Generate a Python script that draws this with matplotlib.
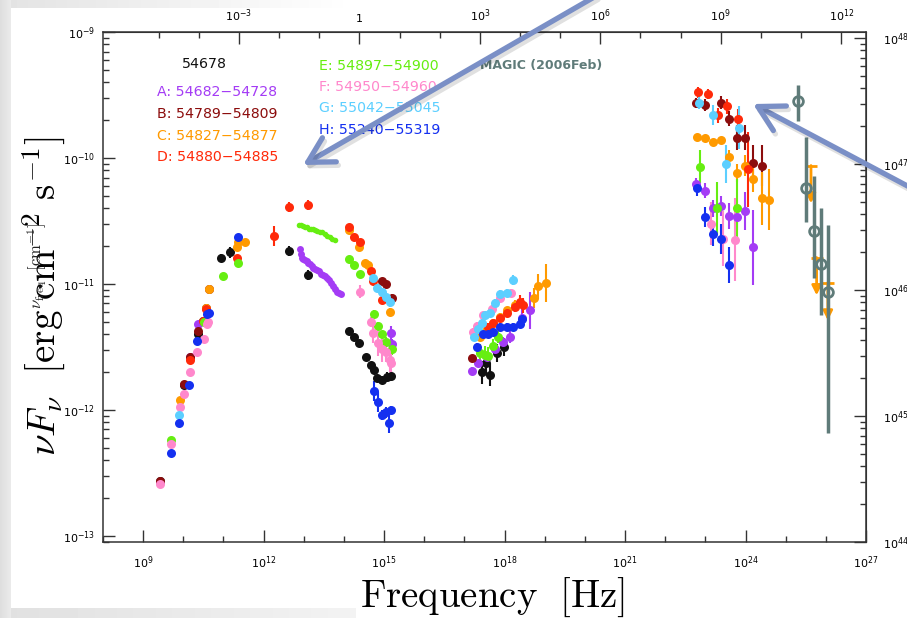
import numpy as np
import matplotlib
matplotlib.use('Agg')
import matplotlib.pyplot as plt
from matplotlib import ticker, patheffects

# SED points: log10(nu / Hz), log10(nuFnu / erg cm^-2 s^-1), 1-sigma error (dex)

# 54678
nu_0 = [9.42, 10.02, 10.36, 10.49, 10.94, 11.16, 12.63, 13.10,
        14.12, 14.25, 14.37, 14.55, 14.67, 14.75, 14.82, 14.95, 15.07, 15.17,
        17.43, 17.53, 17.63, 17.81, 17.98]
nf_0 = [-12.56, -11.80, -11.40, -11.29, -10.79, -10.75, -10.74, -10.93,
        -11.37, -11.42, -11.47, -11.58, -11.64, -11.68, -11.75, -11.76, -11.74, -11.73,
        -11.70, -11.63, -11.72, -11.55, -11.50]
er_0 = [0.02, 0.02, 0.02, 0.02, 0.03, 0.04, 0.04, 0.04,
        0.02, 0.02, 0.02, 0.02, 0.02, 0.02, 0.03, 0.03, 0.04, 0.04,
        0.09, 0.09, 0.09, 0.07, 0.07]

# A: 54682-54728
nu_A = [9.42, 10.17, 10.36, 15.17, 15.19,
        17.19, 17.34, 17.56, 17.76, 17.96, 18.13, 18.43, 18.63,
        22.76, 22.99, 23.19, 23.38, 23.58, 23.78, 23.98, 24.18]
nf_A = [-12.57, -11.58, -11.32, -11.39, -11.48,
        -11.69, -11.63, -11.58, -11.52, -11.46, -11.42, -11.27, -11.21,
        -10.21, -10.26, -10.40, -10.38, -10.46, -10.47, -10.42, -10.71]
er_A = [0.02, 0.02, 0.02, 0.06, 0.04,
        0.03, 0.03, 0.03, 0.03, 0.04, 0.05, 0.08, 0.15,
        0.05, 0.06, 0.07, 0.08, 0.10, 0.10, 0.15, 0.30]
nu_A_ir = [12.90, 12.93, 12.95, 12.99, 13.03, 13.07, 13.10, 13.15, 13.20, 13.23, 13.28, 13.33,
           13.38, 13.43, 13.48, 13.53, 13.58, 13.63, 13.68, 13.73, 13.78, 13.83, 13.88, 13.92]
nf_A_ir = [-10.72, -10.76, -10.79, -10.80, -10.81, -10.82, -10.83, -10.84, -10.86, -10.87, -10.88, -10.89,
           -10.90, -10.92, -10.93, -10.94, -10.95, -10.97, -10.99, -11.02, -11.04, -11.06, -11.07, -11.08]

# B: 54789-54809
nu_B = [9.42, 10.02, 10.17, 10.36, 10.56, 10.64,
        14.95, 15.05, 15.19,
        17.19,
        22.76, 22.99, 23.38, 23.58, 23.78, 23.98, 24.18, 24.41]
nf_B = [-12.56, -11.79, -11.58, -11.37, -11.19, -11.04,
        -10.98, -11.00, -11.11,
        -11.59,
        -9.56, -9.58, -9.56, -9.69, -9.84, -9.84, -10.04, -10.06]
er_B = [0.02, 0.02, 0.02, 0.02, 0.02, 0.02,
        0.03, 0.03, 0.03,
        0.03,
        0.04, 0.05, 0.05, 0.06, 0.10, 0.10, 0.14, 0.16]

# C: 54827-54877
nu_C = [9.92, 10.56, 10.64, 11.34, 11.36, 11.53,
        14.12, 14.37, 14.52, 14.60, 15.14,
        17.39, 17.56, 17.71, 17.88, 18.06, 18.26, 18.73, 18.83, 19.03,
        22.79, 22.99, 23.19, 23.38, 23.58, 23.78, 23.98, 24.18, 24.41, 24.58]
nf_C = [-11.92, -11.19, -11.04, -10.71, -10.67, -10.67,
        -10.57, -10.71, -10.83, -10.85, -11.22,
        -11.42, -11.36, -11.31, -11.26, -11.21, -11.17, -11.11, -11.02, -10.99,
        -9.83, -9.84, -9.87, -9.86, -9.99, -10.12, -10.06, -10.17, -10.32, -10.33]
er_C = [0.02, 0.02, 0.02, 0.02, 0.02, 0.02,
        0.02, 0.02, 0.02, 0.02, 0.03,
        0.03, 0.03, 0.03, 0.03, 0.03, 0.04, 0.08, 0.10, 0.15,
        0.02, 0.02, 0.02, 0.02, 0.05, 0.07, 0.08, 0.10, 0.21, 0.24]

# D: 54880-54885
nu_D = [10.17, 10.49, 10.56, 11.34, 12.26, 12.63, 13.10,
        14.12, 14.25, 14.40, 14.67, 14.72, 14.95,
        17.58, 17.71, 17.88, 18.06, 18.26, 18.38, 18.46,
        22.81, 23.06, 23.31, 23.53, 23.81, 24.06]
nf_D = [-11.60, -11.29, -11.20, -10.79, -10.62, -10.39, -10.37,
        -10.55, -10.63, -10.67, -10.90, -10.98, -11.13,
        -11.34, -11.31, -11.27, -11.23, -11.18, -11.14, -11.17,
        -9.48, -9.49, -9.66, -9.59, -9.69, -10.09]
er_D = [0.02, 0.02, 0.02, 0.02, 0.08, 0.04, 0.04,
        0.02, 0.02, 0.02, 0.03, 0.03, 0.03,
        0.03, 0.03, 0.03, 0.03, 0.04, 0.05, 0.06,
        0.04, 0.04, 0.06, 0.06, 0.08, 0.30]

# E: 54897-54900
nu_E = [9.69, 10.51, 10.99, 11.36,
        14.12, 14.25, 14.40, 14.75, 14.85, 14.95, 15.05, 15.19,
        17.39, 17.51, 17.58, 17.71, 17.83,
        22.86, 23.28, 23.78]
nf_E = [-12.24, -11.30, -10.94, -10.83,
        -10.80, -10.85, -10.92, -11.24, -11.33, -11.40, -11.46, -11.52,
        -11.55, -11.56, -11.57, -11.49, -11.42,
        -10.07, -10.40, -10.40]
er_E = [0.02, 0.02, 0.02, 0.02,
        0.02, 0.02, 0.02, 0.03, 0.03, 0.03, 0.04, 0.04,
        0.07, 0.07, 0.07, 0.05, 0.05,
        0.13, 0.21, 0.23]
nu_E_ir = [12.88, 12.93, 12.98, 13.03, 13.08, 13.13, 13.18, 13.23, 13.28,
           13.34, 13.40, 13.46, 13.53, 13.59, 13.65, 13.71, 13.78]
nf_E_ir = [-10.53, -10.53, -10.54, -10.55, -10.55, -10.56, -10.56, -10.56, -10.57,
           -10.58, -10.59, -10.59, -10.60, -10.62, -10.63, -10.64, -10.65]

# F: 54950-54960
nu_F = [9.42, 9.69, 9.92, 10.02, 10.17, 10.34, 10.51, 10.59, 10.61,
        14.40, 14.67, 14.72, 14.85, 14.95, 15.05, 15.14, 15.17,
        17.21, 17.31, 17.46, 17.68, 17.88, 18.16,
        23.14, 23.43, 23.73]
nf_F = [-12.59, -12.27, -11.98, -11.87, -11.70, -11.54, -11.44, -11.32, -11.30,
        -11.06, -11.30, -11.39, -11.47, -11.52, -11.54, -11.60, -11.63,
        -11.38, -11.33, -11.25, -11.20, -11.11, -11.07,
        -10.52, -10.64, -10.65]
er_F = [0.02, 0.02, 0.02, 0.02, 0.02, 0.02, 0.02, 0.02, 0.02,
        0.05, 0.04, 0.08, 0.10, 0.10, 0.08, 0.10, 0.12,
        0.03, 0.03, 0.03, 0.03, 0.03, 0.03,
        0.17, 0.22, 0.33]

# G: 55042-55045
nu_G = [9.89,
        14.72, 14.82, 14.95, 15.05, 15.14,
        17.24, 17.34, 17.43, 17.51, 17.63, 17.76, 17.88, 18.06, 18.21,
        22.84, 23.19, 23.51, 23.83]
nf_G = [-12.04,
        -10.95, -11.03, -11.06, -11.10, -11.14,
        -11.42, -11.36, -11.31, -11.25, -11.23, -11.15, -11.08, -11.07, -10.97,
        -9.56, -9.66, -10.05, -9.76]
er_G = [0.02,
        0.03, 0.03, 0.03, 0.03, 0.04,
        0.03, 0.03, 0.03, 0.03, 0.03, 0.03, 0.03, 0.03, 0.04,
        0.05, 0.08, 0.15, 0.17]

# H: 55240-55319
nu_H = [9.69, 9.89, 10.14, 10.34, 10.59, 10.64, 11.36,
        14.75, 14.85, 14.95, 15.05, 15.12, 15.17,
        17.31, 17.46, 17.58, 17.71, 17.88, 18.06, 18.21, 18.38, 18.43,
        22.79, 22.99, 23.19, 23.38, 23.58]
nf_H = [-12.34, -12.10, -11.80, -11.45, -11.24, -11.23, -10.63,
        -11.85, -11.94, -12.04, -12.02, -12.10, -12.00,
        -11.50, -11.40, -11.40, -11.38, -11.34, -11.34, -11.34, -11.32, -11.28,
        -10.24, -10.47, -10.60, -10.64, -10.85]
er_H = [0.02, 0.02, 0.02, 0.02, 0.02, 0.02, 0.02,
        0.08, 0.08, 0.04, 0.04, 0.08, 0.03,
        0.03, 0.03, 0.03, 0.03, 0.03, 0.03, 0.03, 0.03, 0.04,
        0.06, 0.08, 0.10, 0.12, 0.14]

# MAGIC (2006 Feb), asymmetric errors in dex
nu_magic = [25.30, 25.50, 25.70, 25.87, 26.05]
nf_magic = [-9.55, -10.24, -10.58, -10.84, -11.06]
up_magic = [0.13, 0.41, 0.44, 0.44, 0.53]
lo_magic = [0.16, 0.27, 0.37, 0.41, 1.12]

# VHE upper limits (period C)
nu_ul = [25.63, 25.77, 26.05]
nf_ul = [-10.06, -10.79, -10.99]

period_labels = ['54678', 'A: 54682\u221254728', 'B: 54789\u221254809', 'C: 54827\u221254877',
                 'D: 54880\u221254885', 'E: 54897\u221254900', 'F: 54950\u221254960',
                 'G: 55042\u221255045', 'H: 55240\u221255319']
period_colors = ['#111111', '#a43cf5', '#8c0d0d', '#ff9a00', '#ff2a0a',
                 '#66ee11', '#ff88cc', '#5ccfff', '#1430f0']
magic_color = '#5f7b79'

nu_to_ev = 2.418e14          # Hz per eV
flux_to_lum = 10 ** 57.048   # nuFnu -> nuLnu


def sed(ax, lognu, lognf, err, color, ms=6.5, z=3):
    lognf = np.asarray(lognf)
    err = np.asarray(err)
    y = 10 ** lognf
    yerr = [y - 10 ** (lognf - err), 10 ** (lognf + err) - y]
    ax.errorbar(10 ** np.asarray(lognu), y, yerr=yerr, fmt='o', color=color,
                ms=ms, mew=0, elinewidth=1.5, capsize=0, zorder=z)


fig = plt.figure(figsize=(9.07, 6.18), dpi=100)
fig.patch.set_facecolor('white')

# slide background strips
bg = fig.add_axes([0, 0, 1, 1], zorder=-10)
bg.set_xlim(0, 907)
bg.set_ylim(618, 0)
bg.axis('off')
bg.imshow(np.linspace(0.88, 0.95, 64)[None, :], extent=(0, 356, 618, 608), cmap='gray',
          vmin=0, vmax=1, aspect='auto')
bg.imshow(np.linspace(0.89, 1.0, 64)[None, :], extent=(0, 360, 8, 0), cmap='gray',
          vmin=0, vmax=1, aspect='auto')
bg.imshow(np.linspace(0.87, 0.92, 16)[None, :], extent=(0, 11, 618, 0), cmap='gray',
          vmin=0, vmax=1, aspect='auto')

ax = fig.add_axes([103 / 907, 76 / 618, 763 / 907, 510 / 618])
ax.set_xscale('log')
ax.set_yscale('log')
ax.set_xlim(1e8, 1e27)
ax.set_ylim(10 ** -13.048, 1e-9)

series = [(nu_0, nf_0, er_0), (nu_A, nf_A, er_A), (nu_B, nf_B, er_B), (nu_C, nf_C, er_C),
          (nu_D, nf_D, er_D), (nu_E, nf_E, er_E), (nu_F, nf_F, er_F), (nu_G, nf_G, er_G),
          (nu_H, nf_H, er_H)]
for (lx, ly, le), col in zip(series, period_colors):
    sed(ax, lx, ly, le, col)

# IR spectra
ax.plot(10 ** np.asarray(nu_A_ir), 10 ** np.asarray(nf_A_ir), 'o', color=period_colors[1],
        ms=5, mew=0, zorder=3)
ax.plot(10 ** np.asarray(nu_E_ir), 10 ** np.asarray(nf_E_ir), 'o', color=period_colors[5],
        ms=4, mew=0, zorder=3)

# VHE upper limits
ul_drop = 0.3
for lx, ly in zip(nu_ul, nf_ul):
    ax.annotate('', xy=(10 ** lx, 10 ** (ly - ul_drop)), xytext=(10 ** lx, 10 ** ly),
                arrowprops=dict(arrowstyle='-|>', color=period_colors[3], lw=2,
                                mutation_scale=14, shrinkA=0, shrinkB=0), zorder=4)
    ax.plot(10 ** lx, 10 ** ly, marker='_', ms=9, mew=2, color=period_colors[3], zorder=4)

# MAGIC
mlog = np.asarray(nf_magic)
my = 10 ** mlog
ax.errorbar(10 ** np.asarray(nu_magic), my,
            yerr=[my - 10 ** (mlog - np.asarray(lo_magic)), 10 ** (mlog + np.asarray(up_magic)) - my],
            fmt='o', mfc='none', mec=magic_color, color=magic_color, ms=7, mew=2,
            elinewidth=2.5, capsize=0, zorder=5)

# period labels
for i, (txt, col) in enumerate(zip(period_labels, period_colors)):
    if i == 0:
        x, y = 0.1035, 0.937
    elif i <= 4:
        x, y = 0.0708, 0.882 - (i - 1) * 0.0425
    else:
        x, y = 0.283, 0.933 - (i - 5) * 0.0415
    ax.text(x, y, txt, color=col, fontsize=10.2, transform=ax.transAxes, ha='left', va='center')
ax.text(0.494, 0.935, 'MAGIC (2006Feb)', color=magic_color, fontsize=9, fontweight='bold',
        transform=ax.transAxes, ha='left', va='center')

# axes styling
for sp in ax.spines.values():
    sp.set_color('#333333')
    sp.set_linewidth(1.1)

ax.xaxis.set_major_locator(ticker.FixedLocator([10.0 ** k for k in range(9, 28, 3)]))
ax.xaxis.set_minor_locator(ticker.FixedLocator([10.0 ** k for k in range(8, 28)]))
ax.xaxis.set_major_formatter(ticker.LogFormatterMathtext())
ax.xaxis.set_minor_formatter(ticker.NullFormatter())
ax.yaxis.set_major_locator(ticker.LogLocator(base=10, numticks=20))
ax.yaxis.set_minor_locator(ticker.LogLocator(base=10, subs=np.arange(2, 10), numticks=20))
ax.yaxis.set_minor_formatter(ticker.NullFormatter())
ax.tick_params(which='both', direction='in', color='#333333', width=1.0, labelsize=8)
ax.tick_params(which='major', length=8.5)
ax.tick_params(which='minor', length=4.5)
ax.tick_params(axis='x', pad=9)
ax.tick_params(axis='y', pad=6)

top = ax.secondary_xaxis('top', functions=(lambda f: f / nu_to_ev, lambda e: e * nu_to_ev))
top.xaxis.set_major_locator(ticker.FixedLocator([1e-3, 1.0, 1e3, 1e6, 1e9, 1e12]))
top.xaxis.set_minor_locator(ticker.FixedLocator([10.0 ** k for k in range(-5, 13)]))
top.xaxis.set_major_formatter(ticker.FuncFormatter(
    lambda v, p: '1' if abs(np.log10(v)) < 1e-6 else r'$10^{%d}$' % round(np.log10(v))))
top.xaxis.set_minor_formatter(ticker.NullFormatter())
top.tick_params(which='both', direction='in', color='#333333', width=1.0, labelsize=8, pad=6)
top.tick_params(which='major', length=8.5)
top.tick_params(which='minor', length=4.5)
top.spines['top'].set_color('#333333')

right = ax.secondary_yaxis('right', functions=(lambda f: f * flux_to_lum, lambda L: L / flux_to_lum))
right.yaxis.set_major_locator(ticker.FixedLocator([1e44, 1e45, 1e46, 1e47, 1e48]))
right.yaxis.set_minor_locator(ticker.LogLocator(base=10, subs=np.arange(2, 10), numticks=20))
right.yaxis.set_major_formatter(ticker.LogFormatterMathtext())
right.yaxis.set_minor_formatter(ticker.NullFormatter())
right.tick_params(which='both', direction='in', color='#333333', width=1.0, labelsize=8, pad=12)
right.tick_params(which='major', length=8.5)
right.tick_params(which='minor', length=4.5)
right.spines['right'].set_color('#333333')

# axis titles
fig.text(492 / 907, 11 / 618, r'$\mathrm{Frequency\ \ [Hz]}$', ha='center', va='baseline',
         fontsize=28, math_fontfamily='cm')
fig.text(44 / 907, 0.521, r'$\nu F_\nu\ \ [\mathrm{erg\ cm}^{-2}\ \mathrm{s}^{-1}]$',
         rotation=90, ha='center', va='center', fontsize=28, math_fontfamily='cm')
fig.text(37 / 907, 0.57, r'$\nu_{\rm freq}\ \ [\mathrm{cm}^{-1}]$', rotation=90,
         ha='center', va='center', fontsize=12, math_fontfamily='cm', color='#222222')

# pointer arrows
ov = fig.add_axes([0, 0, 1, 1], zorder=20)
ov.set_xlim(0, 907)
ov.set_ylim(618, 0)
ov.axis('off')
shadow = [patheffects.SimpleLineShadow(offset=(1.5, -2.5), shadow_color='k', alpha=0.12),
          patheffects.Normal()]
for tail, tip in [((596, -4), (303, 165)), ((915, 190), (753, 104))]:
    ov.annotate('', xy=tip, xytext=tail,
                arrowprops=dict(arrowstyle='->,head_length=0.9,head_width=0.5', color='#7a8fc6',
                                lw=3.8, mutation_scale=20, shrinkA=0, shrinkB=0,
                                path_effects=shadow))

fig.savefig('out.png', dpi=100)
